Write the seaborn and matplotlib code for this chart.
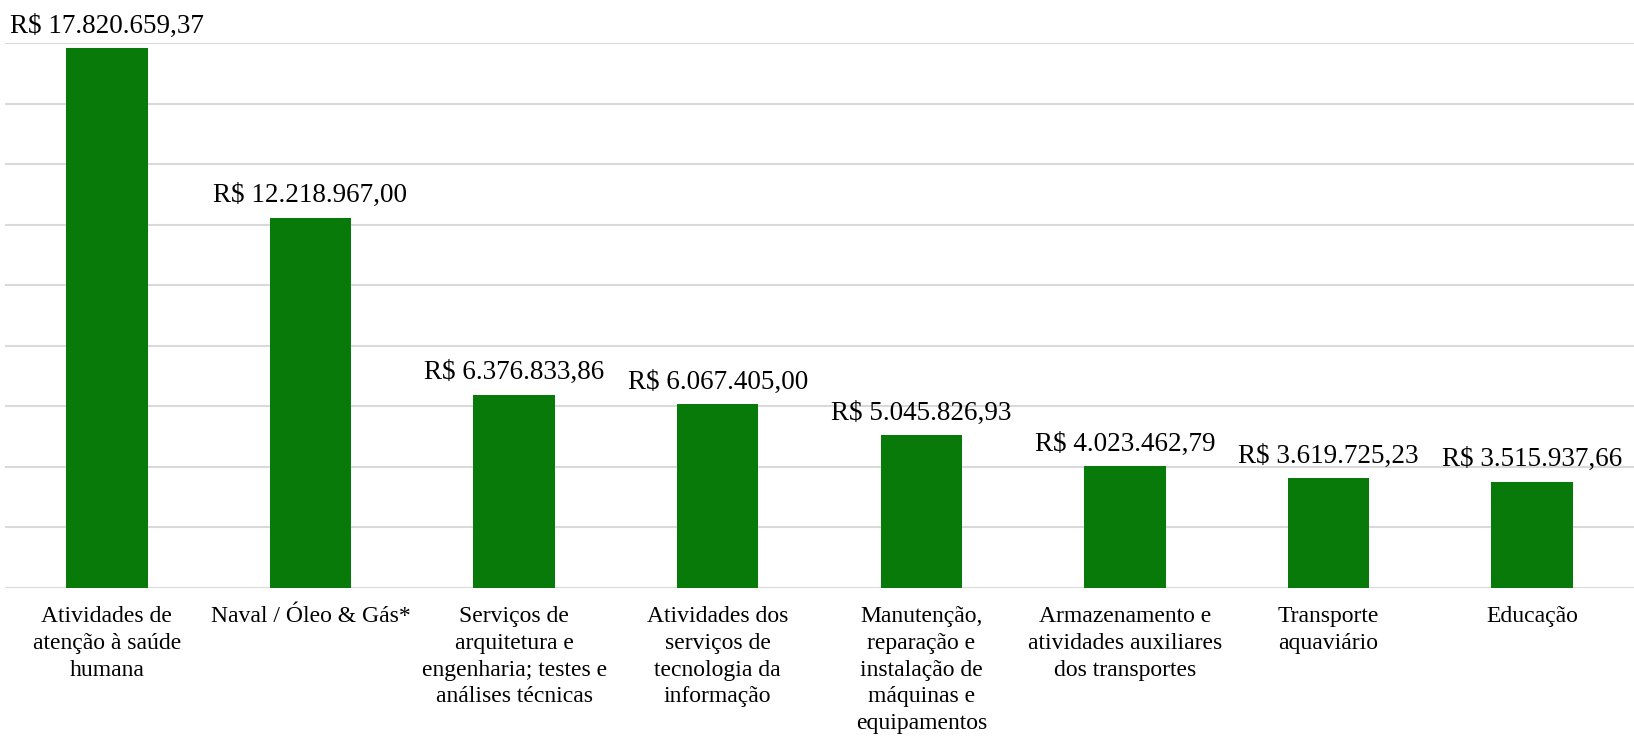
import matplotlib
matplotlib.use("Agg")
import matplotlib.pyplot as plt
import seaborn as sns
import pandas as pd

categories = [
    "Atividades de\natenção à saúde\nhumana",
    "Naval / Óleo & Gás*",
    "Serviços de\narquitetura e\nengenharia; testes e\nanálises técnicas",
    "Atividades dos\nserviços de\ntecnologia da\ninformação",
    "Manutenção,\nreparação e\ninstalação de\nmáquinas e\nequipamentos",
    "Armazenamento e\natividades auxiliares\ndos transportes",
    "Transporte\naquaviário",
    "Educação",
]
values = [17820659.37, 12218967.00, 6376833.86, 6067405.00,
          5045826.93, 4023462.79, 3619725.23, 3515937.66]
y_max = 18000000
y_step = 2000000

def brl(v):
    s = f"{v:,.2f}"
    s = s.replace(",", "X").replace(".", ",").replace("X", ".")
    return "R$ " + s

sns.set_theme(style="white")
plt.rcParams['font.family'] = ['Liberation Serif', 'DejaVu Serif']

df = pd.DataFrame({"cat": categories, "val": values})

fig = plt.figure(figsize=(16.34, 7.39), dpi=100)
ax = fig.add_axes([5/1634, 1 - 588/739, 1 - 5/1634, (588 - 43)/739])

sns.barplot(data=df, x="cat", y="val", color="#077A0A", width=0.4,
            saturation=1, ax=ax, zorder=3, edgecolor="none")

ax.set_ylim(0, y_max)
ax.set_yticks(range(0, y_max + 1, y_step))
ax.set_yticklabels([])
ax.tick_params(axis="y", length=0)
ax.tick_params(axis="x", length=0, pad=13, labelsize=17, colors="black")
ax.grid(axis="y", color="#D9D9D9", linewidth=1.5, zorder=0)
ax.grid(axis="x", visible=False)
for sp in ax.spines.values():
    sp.set_visible(False)
ax.set_xlabel("")
ax.set_ylabel("")
for lbl in ax.get_xticklabels():
    lbl.set_linespacing(1.36)
    lbl.set_verticalalignment("top")
    lbl.set_horizontalalignment("center")

for i, v in enumerate(values):
    ax.annotate(brl(v), (i, v), xytext=(0, 7), textcoords="offset points",
                ha="center", va="bottom", fontsize=19.5, color="black", zorder=4,
                annotation_clip=False)

fig.savefig("out.png", dpi=100)
